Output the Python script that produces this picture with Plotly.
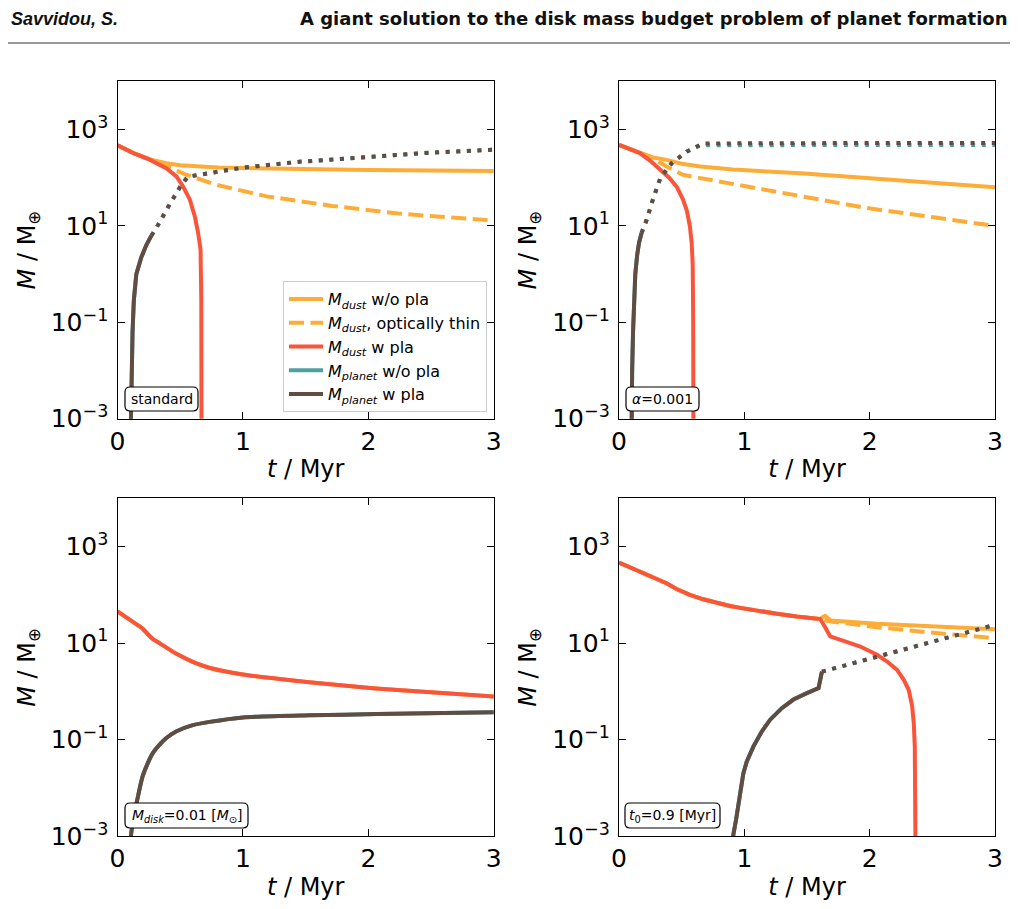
import plotly.graph_objects as go

W, H = 1018, 909

# ---------------- data (t in Myr, M in Earth masses) ----------------
# Panel 1: standard
p1_red_t = [0, 0.127, 0.26, 0.392, 0.471, 0.524, 0.577, 0.617, 0.643, 0.662, 0.668, 0.67]
p1_red_m = [468, 324, 234, 155, 105, 65, 35, 15.5, 7.1, 3.2, 0.3, 1e-4]
p1_solid_t = [0, 0.127, 0.26, 0.33, 0.39, 0.5, 0.65, 0.8, 1.0, 1.5, 2.0, 2.5, 3.0]
p1_solid_m = [468, 324, 240, 214, 200, 182, 170, 162, 158, 148, 145, 141, 138]
p1_thin_t = [0, 0.127, 0.26, 0.35, 0.47, 0.55, 0.79, 1.19, 1.71, 2.24, 3.0]
p1_thin_m = [468, 324, 240, 191, 145, 115, 71, 41, 26, 18, 12.9]
p1_pl_t = [0.1, 0.105, 0.112, 0.12, 0.13, 0.15, 0.19, 0.23, 0.27]
p1_pl_m = [1e-4, 1e-3, 0.01, 0.063, 0.28, 1.0, 2.24, 4.0, 6.3]
p1_pl_dot_t = [0.27, 0.31, 0.40, 0.50, 0.56, 0.73, 1.0, 1.45, 2.0, 2.5, 3.0]
p1_pl_dot_m = [6.3, 9.1, 23.7, 65, 105, 126, 162, 214, 275, 331, 380]

# Panel 2: alpha = 0.001
p2_red_t = [0, 0.08, 0.166, 0.25, 0.33, 0.4, 0.46, 0.51, 0.54, 0.565, 0.58, 0.588, 0.592, 0.594]
p2_red_m = [479, 398, 324, 224, 145, 100, 65, 35.5, 21.4, 10, 4.4, 1.6, 0.1, 1e-4]
p2_solid_t = [0, 0.08, 0.166, 0.27, 0.38, 0.5, 0.65, 0.91, 1.45, 1.98, 2.51, 3.0]
p2_solid_m = [479, 398, 324, 263, 234, 195, 170, 148, 123, 98, 79, 63]
p2_thin_t = [0, 0.08, 0.166, 0.245, 0.38, 0.51, 0.65, 0.91, 1.45, 1.98, 2.51, 3.0]
p2_thin_m = [479, 398, 324, 275, 170, 115, 98, 74, 41, 23.4, 15.1, 10.0]
p2_pl_t = [0.098, 0.1, 0.105, 0.112, 0.12, 0.13, 0.145, 0.16, 0.18]
p2_pl_m = [1e-4, 1e-3, 0.01, 0.063, 0.32, 1.0, 2.5, 4.5, 7.1]
p2_pl_dot_t = [0.18, 0.22, 0.27, 0.33, 0.42, 0.54, 0.67, 1.0, 2.0, 3.0]
p2_pl_dot_m = [7.1, 13.2, 35, 98, 200, 347, 513, 519, 525, 525]
p2_nopl_dot_t = [0.18, 0.22, 0.27, 0.33, 0.42, 0.54, 0.65, 1.0, 2.0, 3.0]
p2_nopl_dot_m = [7.1, 13.2, 35, 98, 200, 347, 470, 475, 478, 478]

# Panel 3: M_disk = 0.01 M_sun
p3_red_t = [0, 0.1, 0.2, 0.24, 0.28, 0.34, 0.47, 0.6, 0.73, 1.0, 1.26, 1.53, 2.06, 2.59, 3.0]
p3_red_m = [45.7, 30.2, 20.0, 15.5, 12.3, 9.8, 6.0, 4.1, 3.1, 2.24, 1.85, 1.55, 1.15, 0.93, 0.79]
p3_pl_t = [0.1, 0.107, 0.126, 0.147, 0.174, 0.2, 0.24, 0.28, 0.334, 0.387, 0.467, 0.6, 0.734, 1.0,
           1.53, 2.07, 3.0]
p3_pl_m = [1e-4, 1e-3, 0.0022, 0.0042, 0.0091, 0.0174, 0.032, 0.052, 0.078, 0.107, 0.148, 0.20,
           0.234, 0.29, 0.32, 0.34, 0.37]

# Panel 4: t0 = 0.9 Myr
p4_red_t = [0, 0.086, 0.192, 0.299, 0.379, 0.459, 0.566, 0.672, 0.779, 0.885, 0.992, 1.125, 1.259,
            1.419, 1.605, 1.645, 1.685, 1.792, 1.925, 2.059, 2.139, 2.219, 2.272, 2.312, 2.339,
            2.352, 2.36, 2.365, 2.37]
p4_red_m = [468, 372, 282, 211, 174, 132, 100, 81, 68, 59, 52.5, 45.7, 40.7, 35.5, 31.6, 21.4, 13.8,
            11.2, 8.5, 5.75, 4.17, 2.8, 1.74, 1.07, 0.49, 0.22, 0.072, 1.07e-3, 1e-4]
p4_solid_t = [0, 0.086, 0.192, 0.299, 0.379, 0.459, 0.566, 0.672, 0.779, 0.885, 0.992, 1.125, 1.259,
              1.419, 1.605, 1.625, 1.645, 1.665, 1.69, 2.06, 2.59, 3.0]
p4_solid_m = [468, 372, 282, 211, 174, 132, 100, 81, 68, 59, 52.5, 45.7, 40.7, 35.5, 31.6, 35, 36.7,
              33, 29.3, 25.1, 21.4, 19.5]
p4_thin_t = [0, 0.086, 0.192, 0.299, 0.379, 0.459, 0.566, 0.672, 0.779, 0.885, 0.992, 1.125, 1.259,
             1.419, 1.605, 1.69, 2.06, 2.59, 3.0]
p4_thin_m = [468, 372, 282, 211, 174, 132, 100, 81, 68, 59, 52.5, 45.7, 40.7, 35.5, 31.6, 28.1,
             21.4, 15.6, 12.7]
p4_pl_t = [0.905, 0.912, 0.934, 0.952, 0.971, 0.992, 1.019, 1.072, 1.139, 1.206, 1.299, 1.392, 1.499,
           1.592, 1.619]
p4_pl_m = [1e-4, 1.07e-3, 2.2e-3, 4.2e-3, 9.1e-3, 0.020, 0.035, 0.072, 0.148, 0.26, 0.45, 0.68, 0.92,
           1.17, 2.57]
p4_pl_dot_t = [1.619, 2.0, 2.5, 3.0]
p4_pl_dot_m = [2.57, 4.75, 10.7, 24]

x_ticks = [0, 1, 2, 3]
x_ticktext = ["0", "1", "2", "3"]
y_ticks = [1e-3, 1e-1, 1e1, 1e3]
y_ticktext = ["10<sup>\u22123</sup>", "10<sup>\u22121</sup>", "10<sup>1</sup>", "10<sup>3</sup>"]

panel_labels = ["standard", "<i>\u03b1</i>=0.001",
                "<i>M</i><sub><i>disk</i></sub>=0.01 [<i>M</i><sub>\u2299</sub>]",
                "<i>t</i><sub>0</sub>=0.9 [Myr]"]

legend_names = ["<i>M</i><sub><i>dust</i></sub> w/o pla",
                "<i>M</i><sub><i>dust</i></sub>, optically thin",
                "<i>M</i><sub><i>dust</i></sub> w pla",
                "<i>M</i><sub><i>planet</i></sub> w/o pla",
                "<i>M</i><sub><i>planet</i></sub> w pla"]

# ---------------- styling ----------------
C_ORANGE = "#FDAD37"
C_RED = "#F9553A"
C_TEAL = "#4FA0A2"
C_BROWN = "#614C42"
LW = 4
DASH = "15px,6.5px"
DOT = "4px,6.6px"
FONT = "DejaVu Sans"

fig = go.Figure()

panels = [
    dict(solid=(p1_solid_t, p1_solid_m), thin=(p1_thin_t, p1_thin_m), red=(p1_red_t, p1_red_m),
         nopl=(p1_pl_t, p1_pl_m), nopl_dot=(p1_pl_dot_t, p1_pl_dot_m),
         pl=(p1_pl_t, p1_pl_m), pl_dot=(p1_pl_dot_t, p1_pl_dot_m)),
    dict(solid=(p2_solid_t, p2_solid_m), thin=(p2_thin_t, p2_thin_m), red=(p2_red_t, p2_red_m),
         nopl=(p2_pl_t, p2_pl_m), nopl_dot=(p2_nopl_dot_t, p2_nopl_dot_m),
         pl=(p2_pl_t, p2_pl_m), pl_dot=(p2_pl_dot_t, p2_pl_dot_m)),
    dict(solid=(p3_red_t, p3_red_m), thin=None, red=(p3_red_t, p3_red_m),
         nopl=(p3_pl_t, p3_pl_m), nopl_dot=None,
         pl=(p3_pl_t, p3_pl_m), pl_dot=None),
    dict(solid=(p4_solid_t, p4_solid_m), thin=(p4_thin_t, p4_thin_m), red=(p4_red_t, p4_red_m),
         nopl=(p4_pl_t, p4_pl_m), nopl_dot=(p4_pl_dot_t, p4_pl_dot_m),
         pl=(p4_pl_t, p4_pl_m), pl_dot=(p4_pl_dot_t, p4_pl_dot_m)),
]

# pixel geometry of the four axes boxes (left, right, top, bottom)
boxes = [(117.5, 493.8, 81.3, 418.7), (619.0, 995.0, 81.3, 418.7),
         (117.5, 493.8, 498.3, 836.3), (619.0, 995.0, 498.3, 836.3)]


def add(i, data, color, dash, name=None, rank=None, smooth=False):
    if data is None:
        return
    t, m = data
    sfx = "" if i == 0 else str(i + 1)
    line = dict(color=color, width=LW, dash=dash)
    if smooth:
        line.update(shape="spline", smoothing=0.6)
    fig.add_trace(go.Scatter(
        x=t, y=m, mode="lines", line=line,
        xaxis="x" + sfx, yaxis="y" + sfx,
        name=name or "", showlegend=name is not None,
        legendrank=rank if rank else 1000, hoverinfo="skip"))


for i, p in enumerate(panels):
    lg = (i == 0)
    sm = (i == 2)
    add(i, p["solid"], C_ORANGE, "solid", legend_names[0] if lg else None, 1, smooth=sm)
    add(i, p["thin"], C_ORANGE, DASH, legend_names[1] if lg else None, 2)
    add(i, p["red"], C_RED, "solid", legend_names[2] if lg else None, 3, smooth=sm)
    add(i, p["nopl"], C_TEAL, "solid", legend_names[3] if lg else None, 4, smooth=sm)
    add(i, p["nopl_dot"], C_TEAL, DOT)
    add(i, p["pl"], C_BROWN, "solid", legend_names[4] if lg else None, 5, smooth=sm)
    add(i, p["pl_dot"], C_BROWN, DOT)

layout = dict(
    width=W, height=H, margin=dict(l=0, r=0, t=0, b=0, pad=0, autoexpand=False),
    autosize=False,
    plot_bgcolor="white", paper_bgcolor="white",
    font=dict(family=FONT, color="black"),
    legend=dict(x=487 / W, xanchor="right", y=1 - 412 / H, yanchor="bottom",
                bgcolor="white", bordercolor="#cccccc", borderwidth=1,
                font=dict(family=FONT, size=16, color="black"),
                tracegroupgap=0, itemwidth=34),
    shapes=[], annotations=[],
)

axis_common = dict(showline=True, linecolor="black", linewidth=1.3, mirror="ticks",
                   ticks="inside", ticklen=7, tickwidth=1.2, tickcolor="black",
                   showgrid=False, zeroline=False, automargin=False,
                   tickfont=dict(family=FONT, size=25, color="black"))

for i, (l, r, t, b) in enumerate(boxes):
    sfx = "" if i == 0 else str(i + 1)
    xa = dict(axis_common, domain=[l / W, r / W], range=[0, 3],
              tickvals=x_ticks, ticktext=x_ticktext,
              anchor="y" + sfx,
              title=dict(text="<i>t</i> / Myr", font=dict(family=FONT, size=24), standoff=5))
    ya = dict(axis_common, domain=[1 - b / H, 1 - t / H], type="log", range=[-3, 4],
              tickvals=y_ticks, ticktext=y_ticktext, ticklabelstandoff=3,
              anchor="x" + sfx,
              title=dict(text="<i>M</i> / M<sub>\u2295</sub>", font=dict(family=FONT, size=24), standoff=8))
    layout["xaxis" + sfx] = xa
    layout["yaxis" + sfx] = ya


def rrect(x0, y0, x1, y1, r=5):
    X = lambda v: v / W
    Y = lambda v: 1 - v / H
    return (f"M {X(x0 + r)},{Y(y0)} L {X(x1 - r)},{Y(y0)} Q {X(x1)},{Y(y0)} {X(x1)},{Y(y0 + r)} "
            f"L {X(x1)},{Y(y1 - r)} Q {X(x1)},{Y(y1)} {X(x1 - r)},{Y(y1)} "
            f"L {X(x0 + r)},{Y(y1)} Q {X(x0)},{Y(y1)} {X(x0)},{Y(y1 - r)} "
            f"L {X(x0)},{Y(y0 + r)} Q {X(x0)},{Y(y0)} {X(x0 + r)},{Y(y0)} Z")


label_boxes = [(125, 387, 198, 411), (626, 387, 699, 411),
               (125, 803, 248, 828), (625, 803, 720, 828)]
for (x0, y0, x1, y1), txt in zip(label_boxes, panel_labels):
    layout["shapes"].append(dict(type="path", path=rrect(x0, y0, x1, y1), xref="paper", yref="paper",
                                 line=dict(color="black", width=1.2), fillcolor="white", layer="above"))
    layout["annotations"].append(dict(text=txt, x=(x0 + x1) / 2 / W, y=1 - (y0 + y1) / 2 / H,
                                      xref="paper", yref="paper", showarrow=False,
                                      xanchor="center", yanchor="middle",
                                      font=dict(family=FONT, size=14, color="black")))

# header
layout["annotations"].append(dict(text="<b><i>Savvidou, S.</i></b>", x=9 / W, y=1 - 19 / H,
                                  xref="paper", yref="paper", showarrow=False, xanchor="left",
                                  yanchor="middle", font=dict(family="Liberation Sans", size=18, color="#111")))
layout["annotations"].append(dict(text="<b>A giant solution to the disk mass budget problem of planet formation</b>",
                                  x=1010 / W, y=1 - 19 / H, xref="paper", yref="paper", showarrow=False,
                                  xanchor="right", yanchor="middle",
                                  font=dict(family="DejaVu Sans", size=18, color="#111")))
layout["shapes"].append(dict(type="line", x0=8 / W, x1=1010 / W, y0=1 - 43 / H, y1=1 - 43 / H,
                             xref="paper", yref="paper", line=dict(color="#333", width=1)))

fig.update_layout(**layout)
fig.write_html("out.html")
